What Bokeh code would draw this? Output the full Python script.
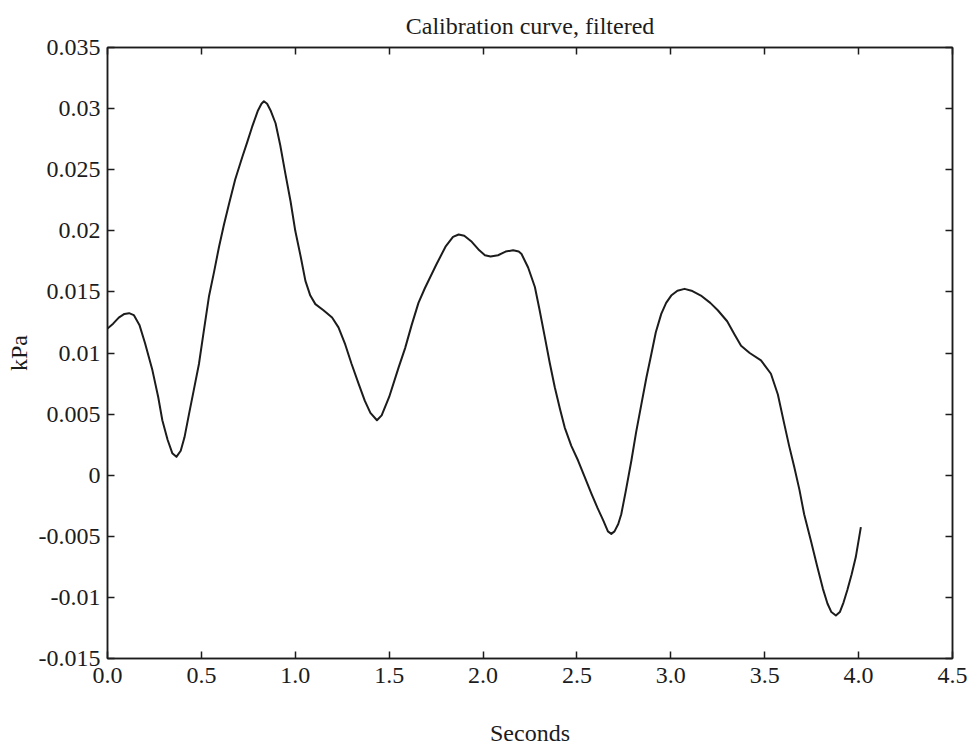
from bokeh.plotting import figure
from bokeh.models import Range1d, FixedTicker, LinearAxis, CustomJSTickFormatter
from bokeh.embed import file_html
from bokeh.resources import INLINE

# ---- data ----
seconds = [0.00, 0.03, 0.06, 0.09, 0.115, 0.14, 0.17, 0.20, 0.239, 0.27, 0.292, 0.32,
           0.345, 0.367, 0.39, 0.41, 0.434, 0.46, 0.487, 0.51, 0.54, 0.567, 0.594, 0.62,
           0.647, 0.68, 0.717, 0.745, 0.77, 0.80, 0.82, 0.833, 0.85, 0.87, 0.895, 0.92,
           0.947, 0.975, 1.00, 1.03, 1.054, 1.08, 1.107, 1.15, 1.196, 1.23, 1.266, 1.30,
           1.337, 1.37, 1.40, 1.435, 1.46, 1.50, 1.55, 1.585, 1.62, 1.656, 1.69, 1.75,
           1.80, 1.84, 1.87, 1.90, 1.94, 1.98, 2.01, 2.04, 2.08, 2.12, 2.16, 2.19,
           2.205, 2.24, 2.276, 2.30, 2.329, 2.355, 2.382, 2.41, 2.435, 2.47, 2.506, 2.54,
           2.577, 2.61, 2.64, 2.665, 2.683, 2.70, 2.72, 2.736, 2.76, 2.79, 2.815, 2.843,
           2.87, 2.896, 2.92, 2.949, 2.975, 3.002, 3.035, 3.073, 3.11, 3.16, 3.21, 3.25,
           3.30, 3.34, 3.374, 3.42, 3.48, 3.533, 3.57, 3.604, 3.63, 3.657, 3.685, 3.71,
           3.745, 3.78, 3.81, 3.834, 3.855, 3.879, 3.90, 3.92, 3.94, 3.963, 3.985, 4.012]
kpa = [0.0120, 0.0124, 0.0129, 0.0132, 0.01326, 0.0131, 0.0123, 0.0108, 0.0086, 0.0064, 0.0045, 0.0029,
       0.0018, 0.0015, 0.0020, 0.0031, 0.0050, 0.0070, 0.0091, 0.0115, 0.0146, 0.0166, 0.0187, 0.0205,
       0.0222, 0.0242, 0.0260, 0.0273, 0.0285, 0.0298, 0.0304, 0.0306, 0.0304, 0.0298, 0.0288, 0.0270,
       0.0247, 0.0224, 0.0200, 0.0178, 0.0159, 0.0147, 0.0140, 0.0135, 0.0129, 0.0121, 0.0107, 0.0091,
       0.0075, 0.0061, 0.0051, 0.0045, 0.0049, 0.0064, 0.0088, 0.0104, 0.0123, 0.0141, 0.0153, 0.0172,
       0.0187, 0.0195, 0.0197, 0.0196, 0.0191, 0.0184, 0.0180, 0.0179, 0.0180, 0.0183, 0.0184, 0.0183,
       0.0181, 0.0170, 0.0154, 0.0136, 0.0113, 0.0092, 0.0072, 0.0054, 0.0039, 0.0024, 0.0012, -0.0001,
       -0.0015, -0.0027, -0.0037, -0.0046, -0.0048, -0.0046, -0.0040, -0.0032, -0.0013, 0.0012, 0.0035, 0.0058,
       0.0080, 0.0099, 0.0117, 0.0132, 0.0141, 0.0147, 0.0151, 0.01525, 0.0151, 0.0147, 0.0141, 0.0135,
       0.0126, 0.0115, 0.0106, 0.0100, 0.0094, 0.0083, 0.0066, 0.0042, 0.0024, 0.0007, -0.0012, -0.0032,
       -0.0053, -0.0075, -0.0093, -0.0105, -0.0112, -0.01148, -0.0112, -0.0104, -0.0094, -0.0081, -0.0067, -0.00425]

x_tick_values = [0.0, 0.5, 1.0, 1.5, 2.0, 2.5, 3.0, 3.5, 4.0, 4.5]
x_tick_labels = ["0.0", "0.5", "1.0", "1.5", "2.0", "2.5", "3.0", "3.5", "4.0", "4.5"]
y_tick_values = [0.035, 0.03, 0.025, 0.02, 0.015, 0.01, 0.005, 0.0, -0.005, -0.01, -0.015]
y_tick_labels = ["0.035", "0.03", "0.025", "0.02", "0.015", "0.01", "0.005", "0",
                 "-0.005", "-0.01", "-0.015"]

TITLE = "Calibration curve, filtered"
X_LABEL = "Seconds"
Y_LABEL = "kPa"

FONT = "Liberation Serif"
INK = "#1c1c1c"

p = figure(width=979, height=748, output_backend="svg", toolbar_location=None,
           x_range=Range1d(0, 4.5), y_range=Range1d(-0.015, 0.035),
           min_border_left=107, min_border_right=27, min_border_top=47,
           min_border_bottom=90, title=TITLE, x_axis_label=X_LABEL,
           y_axis_label=Y_LABEL)

p.background_fill_color = "white"
p.border_fill_color = "white"
p.outline_line_color = INK
p.outline_line_width = 1.5
p.grid.visible = False

p.title.text_font = FONT
p.title.text_font_size = "24px"
p.title.text_font_style = "normal"
p.title.align = "center"
p.title.text_color = INK
p.title.offset = 0
p.title.standoff = 18

p.line(seconds, kpa, line_color=INK, line_width=2, line_join="round")

xtick = FixedTicker(ticks=x_tick_values, minor_ticks=[])
ytick = FixedTicker(ticks=y_tick_values, minor_ticks=[])

def style(ax):
    ax.axis_line_color = INK
    ax.axis_line_width = 1.5
    ax.major_tick_line_color = INK
    ax.major_tick_line_width = 1.5
    ax.major_tick_in = 7
    ax.major_tick_out = 0
    ax.minor_tick_line_color = None
    ax.major_label_text_font = FONT
    ax.major_label_text_font_size = "24px"
    ax.major_label_text_color = INK
    ax.axis_label_text_font = FONT
    ax.axis_label_text_font_size = "24px"
    ax.axis_label_text_font_style = "normal"
    ax.axis_label_text_color = INK

xa = p.xaxis[0]
xa.ticker = xtick
xa.major_label_overrides = dict(zip(x_tick_values, x_tick_labels))
style(xa)
xa.major_label_standoff = 9
xa.axis_label_standoff = 34

ya = p.yaxis[0]
ya.ticker = ytick
ya.major_label_overrides = dict(zip(y_tick_values, y_tick_labels))
style(ya)
ya.major_label_standoff = 7
ya.axis_label_standoff = 4

blank = "return ''"
top = LinearAxis(ticker=FixedTicker(ticks=x_tick_values, minor_ticks=[]),
                 formatter=CustomJSTickFormatter(code=blank))
style(top)
top.major_label_standoff = 0
p.add_layout(top, "above")

right = LinearAxis(ticker=FixedTicker(ticks=y_tick_values, minor_ticks=[]),
                   formatter=CustomJSTickFormatter(code=blank))
style(right)
right.major_label_standoff = 0
p.add_layout(right, "right")

open("out.html", "w").write(file_html(p, INLINE))
